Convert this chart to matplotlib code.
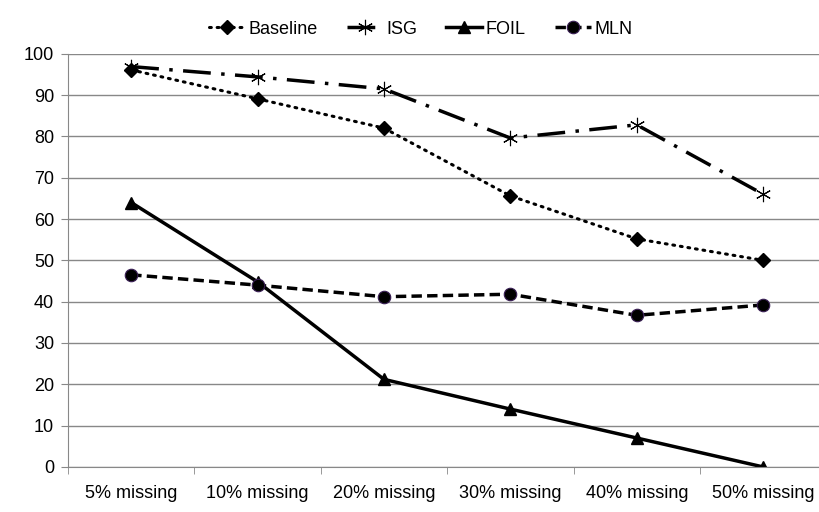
import numpy as np
import matplotlib
matplotlib.use('Agg')
from matplotlib import pyplot as plt

# data
categories = ['5% missing', '10% missing', '20% missing', '30% missing', '40% missing', '50% missing']
baseline = [96.1, 89.1, 82.0, 65.6, 55.2, 50.0]
isg = [96.9, 94.4, 91.5, 79.6, 82.8, 66.0]
foil = [64.0, 44.8, 21.2, 14.0, 7.0, 0.0]
mln = [46.5, 44.0, 41.2, 41.8, 36.7, 39.2]
yticks = [0, 10, 20, 30, 40, 50, 60, 70, 80, 90, 100]

plt.rcParams['font.family'] = ['Liberation Sans', 'DejaVu Sans']

fig = plt.figure(figsize=(8.19, 5.12), dpi=100)
ax = fig.add_axes([0.083, 0.088, 0.926, 0.807])

x = np.arange(len(categories))

ax.plot(x, baseline, color='black', lw=2.2, linestyle=(0, (0.6, 1.9)), dash_capstyle='round',
        marker='D', ms=7, label='Baseline')
ax.plot(x, isg, color='black', lw=2.5, linestyle=(0, (8, 3, 1, 3)),
        marker=(6, 2, 0), ms=11, mew=0.8, label='ISG')
ax.plot(x, foil, color='black', lw=2.5, linestyle='-',
        marker='^', ms=9, label='FOIL')
ax.plot(x, mln, color='black', lw=2.5, linestyle=(0, (3, 1.5)),
        marker='o', ms=9, mfc='black', mec='#3a1f55', mew=0.8, label='MLN')

ax.set_xlim(-0.5, len(categories) - 0.5)
ax.set_ylim(0, 100)
ax.set_yticks(yticks)
ax.set_xticks(x)
ax.set_xticklabels(categories, fontsize=13)
ax.set_xticks(np.arange(len(categories) + 1) - 0.5, minor=True)
ax.tick_params(axis='x', which='major', length=0, pad=13)
ax.tick_params(axis='x', which='minor', length=5, color='#888888')
ax.tick_params(axis='y', length=5, color='#888888', labelsize=13, pad=5)
ax.grid(axis='y', color='#888888', lw=1.0)
ax.set_axisbelow(True)

for s in ['top', 'right']:
    ax.spines[s].set_visible(False)
ax.spines['left'].set_color('#888888')
ax.spines['bottom'].set_color('#888888')

ax.legend(loc='lower center', bbox_to_anchor=(0.465, 1.0), ncol=4, frameon=False,
          fontsize=13, handlelength=2.0, handletextpad=0.2, columnspacing=1.6)

fig.savefig('out.png', dpi=100)
